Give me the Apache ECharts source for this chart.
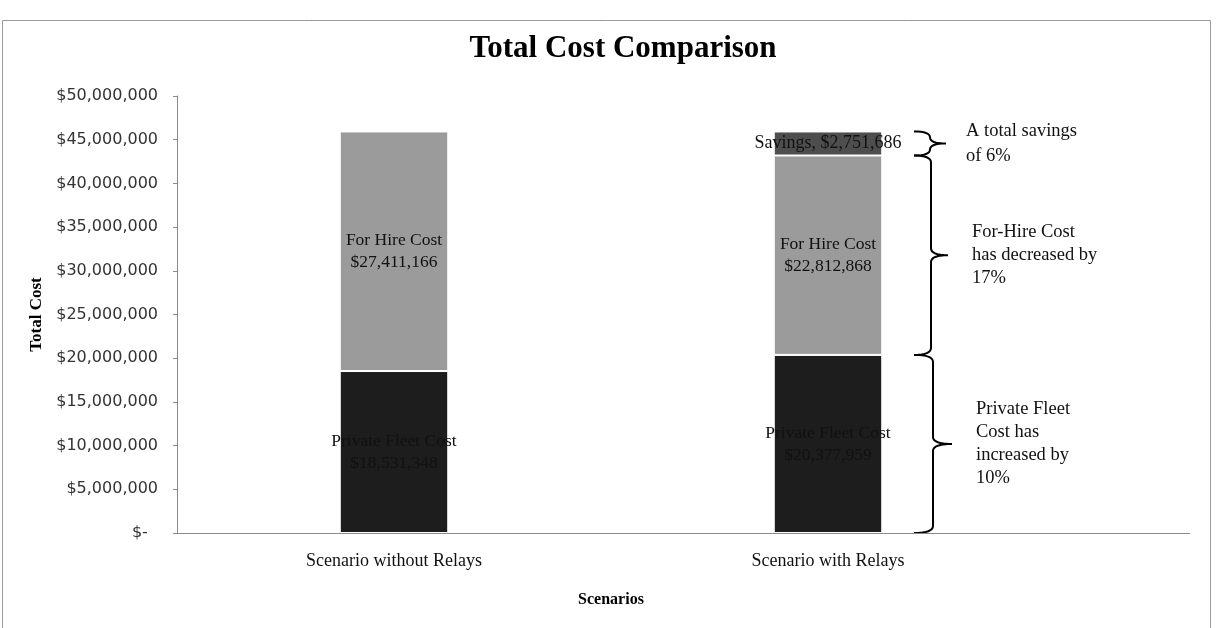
<!DOCTYPE html>
<html>
<head>
<meta charset="utf-8">
<title>Total Cost Comparison</title>
<script src="https://cdn.jsdelivr.net/npm/echarts@6/dist/echarts.min.js"></script>
<style>
  html, body { margin: 0; padding: 0; background: #fff; }
  #chart { width: 1231px; height: 628px; }
</style>
</head>
<body>
<div id="chart"></div>
<script>
// Scenarios compared on the category axis
const categories = ['Scenario without Relays', 'Scenario with Relays'];

// Stacked cost components (USD)
const privateFleetCost = [18531348, 20377959];
const forHireCost = [27411166, 22812868];
const savings = [null, 2751686];

// Value axis ticks
const yMin = 0;
const yMax = 50000000;
const yStep = 5000000;

// Notes shown beside the "with Relays" bar, one per stacked segment
const noteSavings = 'A total savings\nof 6%';
const noteForHire = 'For-Hire Cost\nhas decreased by\n17%';
const notePrivate = 'Private Fleet\nCost has\nincreased by\n10%';

const SERIF = '"Liberation Serif", "Times New Roman", serif';
const money = v => '$' + Number(v).toLocaleString('en-US');

const chart = echarts.init(document.getElementById('chart'));

const labelBase = {
  show: true,
  position: 'inside',
  fontFamily: SERIF,
  fontSize: 17.5,
  color: '#111',
  lineHeight: 22
};

chart.setOption({
  animation: false,
  backgroundColor: '#fff',
  title: {
    text: 'Total Cost Comparison',
    left: 618,
    textAlign: 'center',
    top: 28,
    textStyle: { fontFamily: SERIF, fontSize: 31, fontWeight: 'bold', color: '#000' }
  },
  grid: { left: 177, top: 96, width: 868, height: 437, containLabel: false },
  xAxis: {
    type: 'category',
    data: categories,
    name: 'Scenarios',
    nameLocation: 'middle',
    nameGap: 59,
    nameTextStyle: { fontFamily: SERIF, fontSize: 16, fontWeight: 'bold', color: '#000' },
    axisLine: { show: true, lineStyle: { color: '#8a8a8a', width: 1 } },
    axisTick: { show: false },
    axisLabel: { fontFamily: SERIF, fontSize: 18, color: '#111', margin: 19 }
  },
  yAxis: {
    type: 'value',
    min: yMin,
    max: yMax,
    interval: yStep,
    name: 'Total Cost',
    nameLocation: 'middle',
    nameGap: 124,
    nameRotate: 90,
    nameTextStyle: { fontFamily: SERIF, fontSize: 17, fontWeight: 'bold', color: '#000' },
    axisLine: { show: true, lineStyle: { color: '#8a8a8a', width: 1 } },
    axisTick: { show: true, length: 4, lineStyle: { color: '#8a8a8a' } },
    splitLine: { show: false },
    axisLabel: {
      fontFamily: '"DejaVu Sans", sans-serif',
      fontSize: 16,
      color: '#333',
      margin: 19,
      formatter: v => (v === 0 ? '$-  ' : money(v))
    }
  },
  series: [
    {
      name: 'Private Fleet Cost',
      type: 'bar',
      stack: 'cost',
      barWidth: '25%',
      data: privateFleetCost,
      itemStyle: { color: '#1d1d1d', borderColor: '#fff', borderWidth: 1 },
      label: Object.assign({}, labelBase, { formatter: p => 'Private Fleet Cost\n' + money(p.value) })
    },
    {
      name: 'For Hire Cost',
      type: 'bar',
      stack: 'cost',
      data: forHireCost,
      itemStyle: { color: '#9b9b9b', borderColor: '#fff', borderWidth: 1 },
      label: Object.assign({}, labelBase, { formatter: p => 'For Hire Cost\n' + money(p.value) })
    },
    {
      name: 'Savings',
      type: 'bar',
      stack: 'cost',
      data: savings,
      itemStyle: { color: '#4e4e4e', borderColor: '#fff', borderWidth: 1 },
      label: Object.assign({}, labelBase, { fontSize: 18, formatter: p => 'Savings, ' + money(p.value) })
    }
  ]
});

// Points along a quadratic curve from p0 to p2 with control point c
function quad(p0, c, p2, n) {
  const pts = [];
  for (let k = 1; k <= n; k++) {
    const t = k / n;
    const a = (1 - t) * (1 - t), b = 2 * (1 - t) * t, d = t * t;
    pts.push([a * p0[0] + b * c[0] + d * p2[0], a * p0[1] + b * c[1] + d * p2[1]]);
  }
  return pts;
}

// Curly brace outline opening to the left, tip pointing right
function bracePoints(x, y1, y2, w) {
  const xm = x + w * 0.5;
  const ym = (y1 + y2) / 2;
  const r = Math.min(7, (y2 - y1) / 4);
  let pts = [[x, y1]];
  pts = pts.concat(quad([x, y1], [xm, y1], [xm, y1 + r], 8));
  pts.push([xm, ym - r]);
  pts = pts.concat(quad([xm, ym - r], [xm, ym], [x + w, ym], 8));
  pts = pts.concat(quad([x + w, ym], [xm, ym], [xm, ym + r], 8));
  pts.push([xm, y2 - r]);
  pts = pts.concat(quad([xm, y2 - r], [xm, y2], [x, y2], 8));
  return pts;
}

// Place the braces and notes from the stacked values of the second bar
function drawNotes() {
  const i = 1;
  const p0 = privateFleetCost[i];
  const p1 = p0 + forHireCost[i];
  const p2 = p1 + savings[i];
  const toPx = v => chart.convertToPixel({ gridIndex: 0 }, [i, v]);
  const cx = toPx(0)[0];
  const yBase = toPx(0)[1];
  const yPriv = toPx(p0)[1];
  const yHire = toPx(p1)[1];
  const yTop = toPx(p2)[1];
  const bx = cx + 86;

  const spans = [
    { a: yTop, b: yHire, w: 32, text: noteSavings, dx: 20, lh: 25 },
    { a: yHire, b: yPriv, w: 34, text: noteForHire, dx: 24, lh: 23 },
    { a: yPriv, b: yBase, w: 38, text: notePrivate, dx: 24, lh: 23 }
  ];

  const elements = [];
  spans.forEach(s => {
    elements.push({
      type: 'polyline',
      shape: { points: bracePoints(bx, s.a, s.b, s.w) },
      style: { fill: null, stroke: '#000', lineWidth: 2 },
      silent: true
    });
    elements.push({
      type: 'text',
      x: bx + s.w + s.dx,
      y: (s.a + s.b) / 2,
      style: {
        text: s.text,
        font: '18.5px ' + SERIF,
        fill: '#111',
        lineHeight: s.lh,
        verticalAlign: 'middle'
      },
      silent: true
    });
  });

  // Baseline continues under the notes column
  elements.push({
    type: 'line',
    shape: { x1: 177 + 868, y1: yBase + 0.5, x2: 1190, y2: yBase + 0.5 },
    style: { stroke: '#8a8a8a', lineWidth: 1 },
    silent: true
  });

  // Frame around the chart
  elements.push({
    type: 'rect',
    shape: { x: 2.5, y: 20.5, width: 1208, height: 620 },
    style: { fill: null, stroke: '#9a9a9a', lineWidth: 1 },
    silent: true,
    z: -1
  });

  chart.setOption({ graphic: { elements } });
}

drawNotes();
</script>
</body>
</html>
